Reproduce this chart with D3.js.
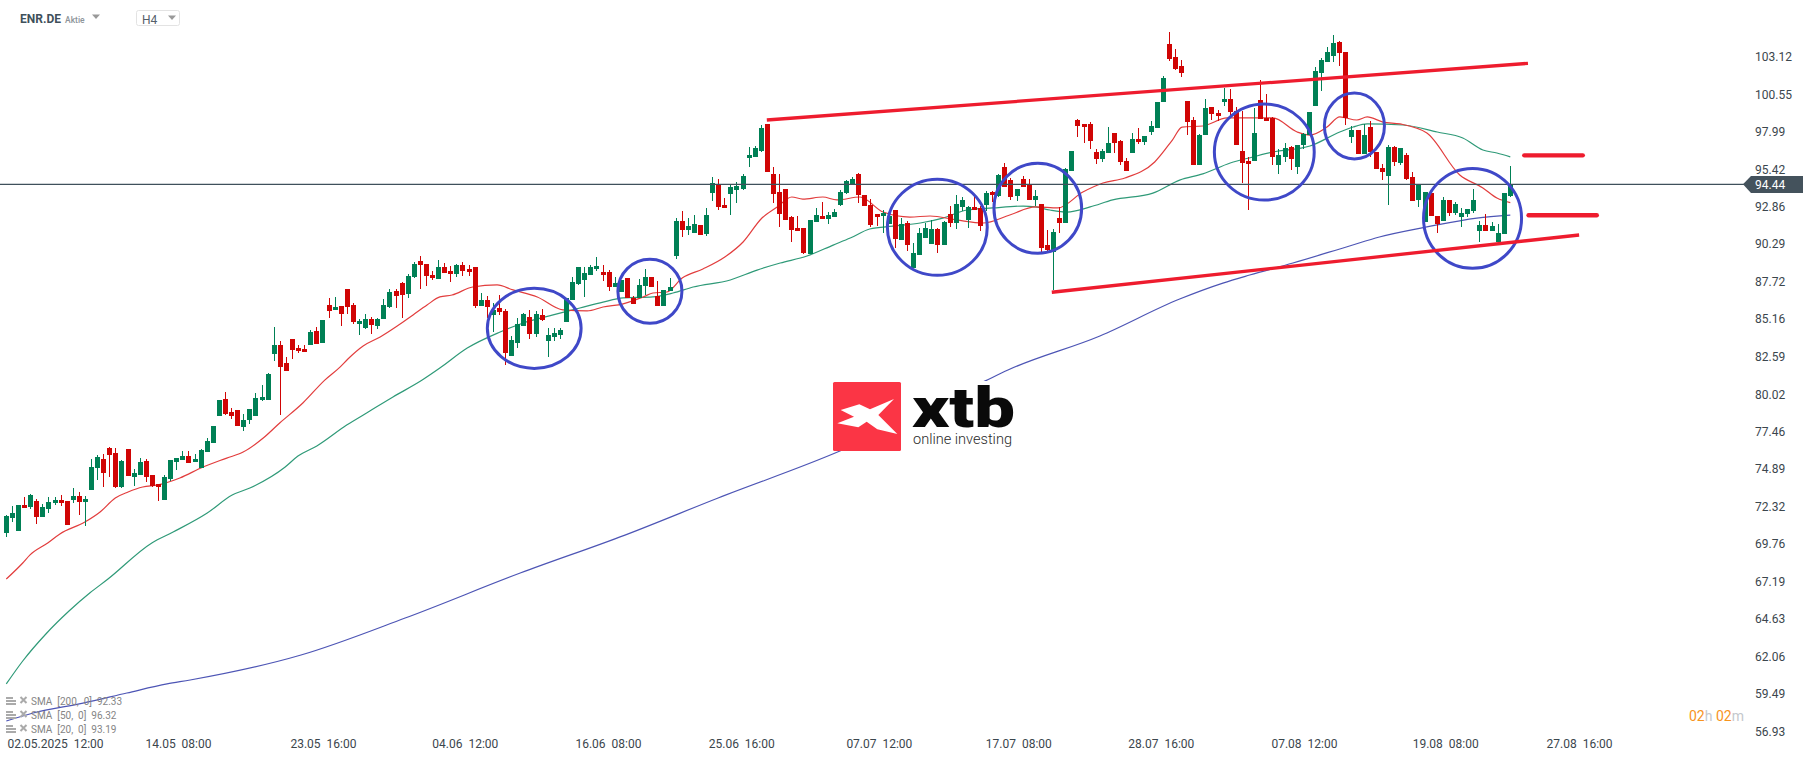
<!DOCTYPE html>
<html><head><meta charset="utf-8">
<script src="https://cdnjs.cloudflare.com/ajax/libs/d3/7.8.5/d3.min.js"></script>
<style>
html,body{margin:0;padding:0;background:#fff;overflow:hidden}
svg{display:block;font-family:Roboto,sans-serif}
text{white-space:pre}
</style></head><body>
<svg id="chart" width="1815" height="761"></svg>
<script>
const symbol = "ENR.DE", assetType = "Aktie", timeframe = "H4";
const priceTicks = [103.12,100.55,97.99,95.42,92.86,90.29,87.72,85.16,82.59,80.02,77.46,74.89,72.32,69.76,67.19,64.63,62.06,59.49,56.93];
const lastPrice = 94.44;
const dateLabels = ["02.05.2025  12:00","14.05  08:00","23.05  16:00","04.06  12:00","16.06  08:00","25.06  16:00","07.07  12:00","17.07  08:00","28.07  16:00","07.08  12:00","19.08  08:00","27.08  16:00"];
const dateIndex = [8,28.2,52,75.3,98.8,120.7,143.3,166.2,189.6,213.1,236.3,258.3];

const opens = [70.57,71.60,70.71,72.49,72.35,72.76,71.67,72.21,72.62,72.83,
72.76,72.83,73.11,72.69,73.52,75.02,75.64,76.39,76.04,73.72,
76.32,74.40,74.54,75.50,74.54,73.93,72.83,74.27,75.43,75.57,
75.84,75.43,75.02,76.11,76.73,78.58,79.74,78.85,78.99,77.82,
78.31,78.58,79.68,79.68,82.83,83.44,82.20,83.85,83.24,83.17,
83.44,84.40,83.58,86.18,85.84,86.11,87.27,86.18,84.88,84.60,
85.22,84.74,85.22,86.04,87.14,87.68,86.93,88.09,89.19,88.98,
88.23,87.95,88.78,88.50,88.30,88.91,88.64,88.78,86.11,86.52,
85.50,85.97,85.77,82.69,83.58,84.74,85.36,84.20,85.50,83.71,
83.99,84.13,85.01,86.52,87.61,87.89,88.23,88.64,88.43,88.43,
87.41,87.07,88.02,86.66,86.66,87.48,88.09,86.80,86.11,87.14,
89.53,91.93,91.31,91.11,91.65,91.04,93.84,94.39,93.02,93.78,
94.05,94.12,96.24,96.31,96.72,98.57,95.15,93.91,94.12,92.20,
91.45,91.45,89.67,91.86,92.27,92.07,92.20,93.02,93.84,94.46,
95.15,93.71,93.02,92.41,92.27,91.72,92.68,90.63,91.79,88.71,
89.60,90.76,90.35,91.38,90.28,92.41,91.79,92.89,92.00,92.89,
92.82,93.02,93.91,93.64,95.62,94.73,93.64,94.80,94.39,93.37,
93.09,90.28,89.81,92.13,91.79,95.35,98.84,98.57,98.57,96.65,
96.17,96.58,97.95,97.40,96.03,96.58,97.54,97.33,98.02,98.29,
100.07,104.04,103.15,102.54,100.14,98.84,95.76,97.81,99.73,99.32,
100.07,100.28,99.46,96.72,96.03,96.03,100.21,98.98,98.98,95.76,
96.31,96.99,95.62,97.13,97.81,99.80,102.06,102.81,103.22,104.18,
103.50,97.68,98.16,96.51,98.36,96.65,95.56,95.01,96.99,95.89,
96.45,94.94,93.37,91.86,93.84,92.27,91.93,93.37,92.48,92.20,
92.41,92.61,91.24,91.65,91.24,90.49,91.04,93.64];
const highs = [71.81,72.42,72.49,73.04,73.25,72.90,72.56,73.04,73.04,73.18,
72.76,73.66,73.38,73.11,75.64,75.91,75.98,76.46,76.39,75.57,
76.32,74.95,75.70,75.64,74.54,73.93,74.54,75.57,75.70,76.18,
76.18,75.98,76.32,77.07,77.89,79.68,80.22,79.13,78.99,78.72,
79.06,80.15,80.70,81.53,84.67,83.71,82.62,83.85,83.44,83.44,
84.47,84.67,85.15,86.66,86.73,86.11,87.27,86.32,85.22,85.57,
85.36,85.29,86.59,87.27,87.27,87.75,88.30,89.12,89.53,88.98,
88.50,89.26,89.05,88.85,88.98,89.12,88.91,88.78,87.00,86.80,
86.32,86.86,85.91,84.05,85.29,85.63,85.84,85.77,85.91,84.60,
84.60,84.60,86.66,88.09,88.78,88.78,88.91,89.46,88.91,88.57,
88.09,87.89,88.02,86.80,87.95,88.64,88.09,87.82,87.21,88.02,
92.13,92.61,92.13,92.34,91.65,92.82,94.94,94.80,93.50,94.39,
94.60,95.15,97.00,97.06,98.50,98.57,95.62,95.15,94.12,92.27,
92.27,91.45,92.00,92.82,93.23,92.54,92.75,94.05,94.73,94.94,
95.22,93.71,93.43,92.41,92.68,92.27,92.68,92.13,91.93,90.42,
91.45,91.79,92.00,91.45,91.93,92.95,93.71,93.57,92.95,93.64,
92.95,93.98,93.98,95.15,95.89,94.87,94.12,95.01,94.80,94.05,
93.09,91.31,91.38,92.89,95.56,96.72,98.91,98.57,98.70,96.86,
96.86,98.36,97.95,97.47,96.24,97.95,98.29,97.75,98.77,100.07,
101.85,104.87,103.70,102.95,100.14,99.05,97.88,100.28,99.73,99.53,
101.03,100.96,99.73,99.46,96.31,99.66,101.58,100.62,99.05,96.86,
97.27,97.06,97.13,97.95,99.39,102.47,103.08,103.84,104.66,104.25,
103.50,98.43,98.16,98.57,98.77,96.65,95.83,97.13,97.06,96.92,
96.58,95.28,94.39,93.91,93.84,92.27,93.57,93.37,93.23,92.82,
92.75,94.12,91.93,92.41,91.86,91.72,93.84,95.69];
const lows = [70.30,71.32,70.71,72.28,72.21,71.19,71.67,71.94,72.49,72.42,
71.12,72.62,71.81,71.05,73.52,74.20,73.72,74.40,73.65,73.65,
74.47,73.79,74.54,74.06,73.72,72.76,72.83,74.13,74.88,75.57,
75.36,75.43,75.02,76.11,76.73,78.58,78.65,78.38,77.89,77.55,
78.03,78.58,79.61,79.68,82.34,78.65,81.66,82.48,82.89,82.96,
83.44,83.51,83.58,85.29,85.84,84.74,85.57,84.88,84.13,84.54,
84.20,84.54,85.22,85.97,85.97,85.29,86.66,88.02,87.27,87.48,
87.89,87.95,88.37,87.75,88.09,88.16,88.16,85.97,86.11,85.29,
84.33,85.50,82.07,82.69,83.24,84.74,83.85,83.99,85.08,82.62,
83.71,83.85,85.01,86.52,87.55,86.73,88.23,88.50,87.82,87.14,
87.41,87.07,86.66,86.25,86.66,86.86,87.41,86.11,86.11,87.14,
89.32,90.83,90.97,91.11,90.97,90.90,93.30,92.68,92.82,92.34,
93.16,94.05,95.62,96.31,96.65,95.28,93.16,91.52,92.00,90.49,
91.24,89.67,89.67,91.86,92.07,91.72,92.20,92.95,93.78,94.46,
93.16,92.95,91.52,91.58,91.11,91.72,90.08,90.63,89.87,88.71,
89.60,90.76,90.35,89.74,90.28,91.52,91.38,92.61,91.45,92.68,
91.24,92.61,93.23,93.57,94.25,93.37,93.30,94.25,93.37,92.95,
89.81,89.87,87.21,91.11,91.79,95.35,97.68,97.27,96.86,95.83,
95.96,96.58,96.58,95.76,95.35,96.58,97.20,97.13,97.81,98.29,
100.07,102.88,102.26,101.78,97.81,95.76,95.76,97.81,98.84,98.77,
99.80,99.18,97.13,94.53,92.68,96.03,98.91,98.77,95.76,95.15,
95.96,95.42,95.15,96.86,97.81,99.80,100.82,102.81,102.81,102.54,
98.50,97.27,96.51,96.51,96.31,95.49,94.73,93.02,95.69,95.76,
94.73,93.30,92.89,91.86,92.27,91.11,91.93,92.27,92.34,91.52,
92.20,92.48,90.49,91.24,91.24,90.49,91.04,93.57];
const closes = [71.74,71.94,72.49,72.28,73.18,71.67,72.35,72.69,72.83,72.62,
71.12,73.11,72.69,72.90,75.08,75.77,74.67,75.91,73.72,75.50,
74.47,74.67,75.43,74.40,73.79,73.72,74.40,75.57,75.70,75.84,
75.36,75.64,76.25,76.87,77.89,79.68,78.72,78.58,77.89,78.31,
79.06,79.81,79.88,81.46,83.44,81.94,81.66,83.10,83.03,82.96,
84.33,83.51,85.15,85.77,86.04,85.57,86.04,85.01,85.08,85.22,
84.81,85.22,86.18,87.07,86.80,86.86,88.16,88.98,88.91,88.16,
88.02,88.78,88.37,88.30,88.91,88.50,88.43,86.11,86.52,86.04,
85.84,85.70,82.89,83.78,84.88,85.57,84.20,85.57,85.15,84.13,
84.26,84.47,86.66,87.75,88.78,88.37,88.78,88.85,88.23,87.41,
87.68,87.89,86.66,86.25,87.55,88.09,87.41,86.11,87.21,87.41,
91.93,91.31,91.58,91.72,90.97,92.34,94.52,92.89,92.82,94.25,
94.32,95.01,96.45,96.92,98.29,95.28,93.78,92.41,92.00,91.31,
91.24,89.74,92.00,92.34,92.07,92.34,92.54,93.91,94.66,94.80,
93.71,92.95,91.65,92.20,92.48,92.27,90.70,91.72,90.28,89.74,
91.11,91.45,91.38,90.28,91.86,91.79,93.09,93.37,92.89,92.68,
91.58,93.84,93.71,95.08,94.25,93.57,94.12,94.25,93.37,93.64,
90.08,89.94,91.17,91.79,95.49,96.72,98.43,98.36,97.40,96.17,
96.72,97.27,97.27,95.96,95.35,97.54,97.33,97.75,98.43,100.07,
101.72,103.02,102.33,102.06,98.70,95.76,97.81,99.66,99.25,99.11,
100.28,99.39,97.13,95.89,95.83,97.95,98.91,98.77,96.31,96.45,
96.92,96.17,97.13,97.88,99.39,102.20,102.95,103.50,104.11,103.43,
98.98,98.16,96.51,97.81,96.65,95.49,95.28,96.99,95.96,96.92,
94.80,93.30,94.39,93.91,92.27,91.72,93.37,92.48,93.09,92.48,
92.75,93.37,91.65,91.24,91.58,91.11,93.84,94.44];

const sma20Index = [0,2.7,3.9,6.8,8.8,12.9,15.4,17.9,20,22.4,24.9,28.5,32.3,36.2,38.9,42.2,44.9,48.7,52.3,54.8,56.1,58.6,61.4,64.2,66.8,69.1,71.2,73.2,76.6,80.6,83.2,87.2,91.4,95.4,98,101.3,104.6,106.2,108.5,111,114.4,118,121,124.1,126.6,129,130.8,134.1,136.4,140.2,144,148.4,151.7,156.1,160.4,164.8,169,172.7,176.8,180.1,183.7,188.6,191.5,193.1,196.5,200.5,205.4,208,212,214.1,216.9,219,221.8,223.5,226.1,228.9,233.3,238.7,242.5,244.8,247];
const sma20 = [67.42,68.52,69.07,69.89,70.51,71.32,72.01,72.97,73.38,73.72,73.86,74.34,75.09,75.70,76.11,77.07,78.10,79.47,81.04,81.93,82.48,83.37,83.99,84.74,85.50,86.18,86.73,86.86,87.41,87.55,87.21,86.73,85.84,85.77,86.04,86.25,86.73,87.00,87.07,88.02,88.64,89.46,90.49,92.13,92.89,93.57,93.43,93.57,93.37,93.57,92.54,92.20,92.27,92.00,91.79,92.34,92.89,92.82,93.91,94.53,94.87,95.97,97.47,98.36,98.43,98.98,98.98,98.98,98.02,97.81,98.36,99.05,98.84,99.05,98.70,98.57,97.95,95.08,94.19,93.50,93.19];
const sma50Index = [0,2.7,6.5,10.3,13.7,16.7,23.9,27.4,33,37.1,40,45.8,47.9,51,55.9,59.7,63.5,68.3,71.2,75.7,81.1,84.9,89.8,94.2,98,101.3,106.2,109.5,112.8,118.9,123.3,127.1,131.5,135.8,138.6,141.8,145.6,150.1,153.8,157.8,162,167,169,171.4,174.2,178,181.7,188.3,192.7,196.5,201,204.7,208,214.1,219,221.2,223.5,229.4,235,239.2,242.5,244.8,247];
const sma50 = [60.24,61.81,63.66,65.23,66.46,67.42,69.89,70.64,71.94,73.17,73.65,75.09,75.84,76.53,77.96,78.92,79.88,81.04,81.86,83.23,84.33,84.95,85.50,85.97,86.38,86.66,86.73,87.00,87.41,87.89,88.57,89.05,89.53,90.28,90.76,91.38,91.58,91.79,92.13,92.68,92.82,92.95,92.89,92.68,92.54,92.89,93.37,93.84,94.73,95.15,95.90,96.31,96.65,97.06,98.02,98.36,98.57,98.50,98.02,97.61,96.79,96.58,96.32];
const sma200Index = [0,4.4,12.6,19.8,26.4,30.2,48.4,65.5,84.4,101.6,116.9,136.9,160.7,164.5,179.6,192.7,199.8,204.2,211.3,220.6,225.5,233.3,241.5,247];
const sma200 = [57.70,58.25,58.93,59.62,60.24,60.51,62.22,64.75,67.83,70.43,72.97,76.18,80.97,81.73,84.06,86.59,87.68,88.23,89.05,90.22,90.83,91.52,92.13,92.33];
const legendLabels = ["SMA  [200,  0]  92.33","SMA  [50,  0]  96.32","SMA  [20,  0]  93.19"];

// Chart annotations, in candle-index and price units
const circleIndex = [86.7,105.7,152.9,169.4,206.6,221.4,240.8];
const circlePrice = [84.58,87.12,91.50,92.80,96.65,98.43,92.11];
const circleIndexRadius = [7.7,5.26,8.2,7.2,8.2,4.93,8.05];
const circlePriceRadius = [2.74,2.19,3.29,3.08,3.29,2.26,3.42];
const trendStartIndex = [124.9,171.7], trendStartPrice = [98.84,87.05];
const trendEndIndex = [249.9,258.3], trendEndPrice = [102.72,90.97];
const levelStartIndex = [249.3,250], levelEndIndex = [258.9,261.2], levelPrice = [96.42,92.32];

const svg = d3.select("#chart");
const x = d3.scaleLinear().domain([0, 247]).range([6.3, 1510.3]);
const y = d3.scaleLinear().domain([94.44, 56.93]).range([184.3, 732.3]);
const GREEN = "#008055", RED = "#d00505", SLATE = "#3f505b";

// Moving averages
const lineGen = d3.line().x(d => x(d[0])).y(d => y(d[1])).curve(d3.curveMonotoneX);
[[sma200Index, sma200, "#4d55b5"], [sma50Index, sma50, "#2f9a78"], [sma20Index, sma20, "#e23d3d"]].forEach(([ix, v, col]) => {
  svg.append("path").attr("d", lineGen(d3.zip(ix, v))).attr("fill", "none").attr("stroke", col).attr("stroke-width", 1.2);
});

// Candles
const candles = svg.append("g").attr("shape-rendering", "crispEdges");
const cx = i => Math.round(x(i) - 0.5) + 0.5;
const ry = p => Math.round(y(p));
opens.forEach((o, i) => {
  const c = closes[i], col = c >= o ? GREEN : RED;
  const top = ry(Math.max(o, c)), bot = ry(Math.min(o, c));
  candles.append("rect").attr("x", cx(i) - 0.5).attr("width", 1).attr("y", ry(highs[i])).attr("height", Math.max(ry(lows[i]) - ry(highs[i]), 1)).attr("fill", col);
  candles.append("rect").attr("x", cx(i) - 2.5).attr("width", 5).attr("y", top).attr("height", Math.max(bot - top, 1)).attr("fill", col);
});

// Last price line and tag
svg.append("line").attr("x1", 0).attr("x2", 1745).attr("y1", y(lastPrice)).attr("y2", y(lastPrice)).attr("stroke", SLATE).attr("stroke-width", 1.2);
svg.append("path").attr("d", "M1743," + y(lastPrice) + "L1751,176L1803,176L1803,193L1751,193Z").attr("fill", "#44525c");
svg.append("text").attr("x", 1755).attr("y", y(lastPrice) + 5).attr("font-size", 12).attr("fill", "#fff").text(lastPrice.toFixed(2));

// Annotations
const marks = svg.append("g");
circleIndex.forEach((ci, i) => {
  marks.append("ellipse").attr("cx", x(ci)).attr("cy", y(circlePrice[i]))
    .attr("rx", x(circleIndexRadius[i]) - x(0)).attr("ry", y(0) - y(circlePriceRadius[i]))
    .attr("fill", "none").attr("stroke", "#3f48c8").attr("stroke-width", 3);
});
trendStartIndex.forEach((s, i) => {
  marks.append("line").attr("x1", x(s)).attr("y1", y(trendStartPrice[i])).attr("x2", x(trendEndIndex[i])).attr("y2", y(trendEndPrice[i]))
    .attr("stroke", "#ee1c2e").attr("stroke-width", 3.3);
});
levelStartIndex.forEach((s, i) => {
  marks.append("line").attr("x1", x(s)).attr("x2", x(levelEndIndex[i])).attr("y1", y(levelPrice[i])).attr("y2", y(levelPrice[i]))
    .attr("stroke", "#ee1c2e").attr("stroke-width", 4.4).attr("stroke-linecap", "round");
});

// Price axis
const yAxis = d3.axisRight(y).tickValues(priceTicks).tickSize(0).tickPadding(0).tickFormat(d3.format(".2f"));
const gy = svg.append("g").attr("transform", "translate(1755,-0.8)").call(yAxis);
gy.select(".domain").remove();
gy.selectAll("text").attr("font-family", "Roboto").attr("font-size", 12).attr("fill", "#3b464d");

// Time axis
const xAxis = d3.axisBottom(x).tickValues(dateIndex).tickSize(0).tickPadding(0).tickFormat((d, i) => dateLabels[i]);
const gx = svg.append("g").attr("transform", "translate(0,739)").call(xAxis);
gx.select(".domain").remove();
gx.selectAll("text").attr("font-family", "Roboto").attr("font-size", 12).attr("fill", "#3b464d");

// Logo
const logo = svg.append("g");
logo.append("rect").attr("x", 833).attr("y", 381).attr("width", 190).attr("height", 70).attr("fill", "#fff");
logo.append("rect").attr("x", 833).attr("y", 382).attr("width", 68).attr("height", 69).attr("rx", 1.5).attr("fill", "#fb3545");
logo.append("path").attr("transform", "translate(820,370) scale(0.3333)")
  .attr("d", "M62,120L118,103L150,118L222,87L175,135L232,192L172,178L140,155L115,172L52,160L102,140Z").attr("fill", "#fff");
logo.append("text").attr("x", 912).attr("y", 427).attr("font-family", "Roboto").attr("font-weight", 900).attr("font-size", 56)
  .attr("textLength", 103).attr("lengthAdjust", "spacingAndGlyphs").attr("fill", "#0a0a0a").text("xtb");
logo.append("text").attr("x", 913).attr("y", 444).attr("font-family", "Roboto").attr("font-weight", 300).attr("font-size", 14.5)
  .attr("textLength", 99).attr("lengthAdjust", "spacingAndGlyphs").attr("fill", "#2a2a2a").text("online investing");

// Header
svg.append("text").attr("x", 20).attr("y", 23).attr("font-size", 12).attr("font-weight", 700).attr("fill", SLATE).text(symbol);
svg.append("text").attr("x", 65).attr("y", 22.5).attr("font-size", 8.5).attr("font-weight", 500).attr("fill", "#8d9499").text(assetType);
svg.append("path").attr("d", "M92,14.5H100L96,19Z").attr("fill", "#999");
svg.append("rect").attr("x", 136.5).attr("y", 10.5).attr("width", 43).attr("height", 15).attr("rx", 2).attr("fill", "#fff").attr("stroke", "#e3e3e3");
svg.append("text").attr("x", 142).attr("y", 24).attr("font-size", 12).attr("fill", "#55606a").text(timeframe);
svg.append("path").attr("d", "M168,15.5H176L172,20Z").attr("fill", "#999");

// Indicator legend
legendLabels.forEach((t, i) => {
  const cy = 701 + i * 14;
  const g = svg.append("g");
  [-4, -1, 2].forEach((d, k) => g.append("rect").attr("x", 6).attr("y", cy + d).attr("width", k === 0 ? 7 : 10).attr("height", 2).attr("fill", "#aaa"));
  g.append("path").attr("d", `M20.5,${cy - 4}L26.5,${cy + 2}M26.5,${cy - 4}L20.5,${cy + 2}`).attr("stroke", "#aaa").attr("stroke-width", 2);
  g.append("text").attr("x", 31).attr("y", cy + 4).attr("font-size", 10).attr("fill", "#858585").text(t);
});

// Countdown
const timer = svg.append("text").attr("x", 1689).attr("y", 721).attr("font-size", 14);
[["02", "#f7941d"], ["h ", "#c4c8cc"], ["02", "#f7941d"], ["m", "#c4c8cc"]].forEach(([t, c]) => timer.append("tspan").attr("fill", c).text(t));
</script>
</body></html>
